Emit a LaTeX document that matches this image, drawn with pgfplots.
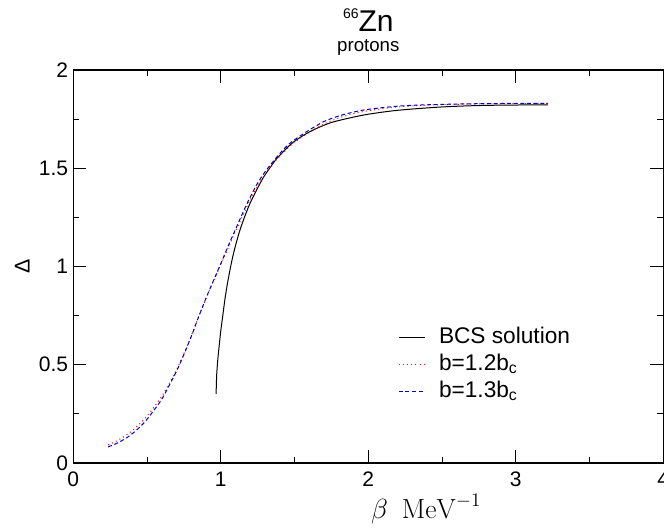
\documentclass[border=0pt]{standalone}
\usepackage[no-math]{fontspec}
\setmainfont{Liberation Sans}
\usepackage{pgfplots}
\pgfplotsset{compat=1.18}

\begin{document}
\begin{tikzpicture}
\begin{axis}[
  name=ax,
  scale only axis=true,
  width=442.5pt, height=294.75pt,
  xmin=0, xmax=4, ymin=0, ymax=2,
  xtick={0,1,2,3,4}, ytick={0,0.5,1,1.5,2},
  minor x tick num=1, minor y tick num=1,
  tick align=inside,
  xtick pos=both, ytick pos=both,
  ticklabel pos=left,
  major tick length=9.75pt, minor tick length=4.5pt,
  every tick/.style={black, line width=0.6pt},
  axis line style={line width=0.9pt},
  /pgf/number format/assume math mode=true,
  ticklabel style={font=\fontsize{15.75}{18}\selectfont},
  yticklabel style={inner sep=0pt, xshift=-3.75pt},
  xticklabel style={inner sep=0pt, yshift=-6.4pt},
  every axis x label/.style={at={(axis description cs:0.598,-0.117)}, anchor=center},
  every axis y label/.style={at={(axis description cs:-0.0865,0.5)}, rotate=90, anchor=center},
  xlabel={\fontsize{22.5}{27}\selectfont $\beta\mkern9mu\mathrm{MeV}^{-1}$},
  ylabel={\fontsize{16}{19}\selectfont Δ},
  clip=false,
  legend cell align=left,
  legend image code/.code={\draw[#1] (0pt,0pt) -- (19.5pt,0pt);},
  legend style={draw=none, fill=none, inner sep=0pt, outer sep=0pt,
    at={(axis description cs:0.5503,0.3448)}, anchor=north west,
    font=\fontsize{17}{20}\selectfont,
    row sep=4.75pt, column sep=10.5pt,
    nodes={inner sep=0pt, text height=12pt, text depth=3.5pt}},
]
\addplot[black, line width=0.75pt, smooth] coordinates {
(0.968,0.352) (0.972,0.45) (0.980,0.53) (0.990,0.605) (1.000,0.675)
(1.015,0.760) (1.030,0.845) (1.050,0.935) (1.075,1.030) (1.100,1.108)
(1.130,1.186) (1.165,1.260) (1.200,1.325) (1.250,1.400) (1.290,1.455)
(1.340,1.510) (1.380,1.550) (1.440,1.597) (1.490,1.632) (1.570,1.672)
(1.650,1.703) (1.750,1.733) (1.880,1.757) (2.000,1.775) (2.200,1.795)
(2.500,1.812) (2.800,1.820) (3.218,1.823)
};
\addlegendentry{BCS solution}
\addplot[red, line width=0.75pt, dash pattern=on 0.75pt off 2.4pt, smooth] coordinates {
(0.236,0.092) (0.300,0.115) (0.365,0.145) (0.420,0.178) (0.480,0.222)
(0.540,0.278) (0.600,0.340) (0.650,0.405) (0.700,0.475) (0.750,0.558)
(0.800,0.648) (0.850,0.745) (0.900,0.838) (0.950,0.925) (1.000,1.010)
(1.050,1.095) (1.100,1.180) (1.150,1.262) (1.200,1.340) (1.250,1.410)
(1.300,1.470) (1.350,1.520) (1.400,1.563) (1.450,1.600) (1.500,1.632)
(1.600,1.683) (1.700,1.725) (1.800,1.756) (1.900,1.778) (2.000,1.793)
(2.200,1.812) (2.400,1.821) (2.700,1.827) (3.000,1.829) (3.218,1.830)
};
\addlegendentry{b=1.2b\textsubscript{c}}
\addplot[color={rgb,255:red,0;green,0;blue,190}, line width=0.75pt, dash pattern=on 3pt off 2pt, smooth] coordinates {
(0.236,0.082) (0.300,0.102) (0.365,0.130) (0.420,0.162) (0.480,0.205)
(0.540,0.262) (0.600,0.325) (0.650,0.395) (0.700,0.468) (0.750,0.553)
(0.800,0.645) (0.850,0.745) (0.900,0.840) (0.950,0.928) (1.000,1.015)
(1.050,1.105) (1.100,1.190) (1.150,1.275) (1.200,1.355) (1.250,1.425)
(1.300,1.482) (1.350,1.530) (1.400,1.575) (1.450,1.615) (1.500,1.645)
(1.600,1.695) (1.700,1.738) (1.800,1.766) (1.900,1.786) (2.000,1.800)
(2.200,1.816) (2.400,1.823) (2.700,1.828) (3.000,1.830) (3.218,1.830)
};
\addlegendentry{b=1.3b\textsubscript{c}}
\node[anchor=base, inner sep=0pt] at (axis description cs:0.5,1.0967)
  {\fontsize{22.5}{27}\selectfont\raisebox{9.9pt}{\fontsize{10.5}{12}\selectfont 66}Zn};
\node[anchor=base, inner sep=0pt] at (axis description cs:0.5,1.0458)
  {\fontsize{14}{16}\selectfont protons};
\end{axis}
\pgfresetboundingbox
\path ([xshift=-55pt,yshift=-49.5pt]ax.south west) rectangle ([xshift=0.5pt,yshift=52.5pt]ax.north east);
\end{tikzpicture}
\end{document}
